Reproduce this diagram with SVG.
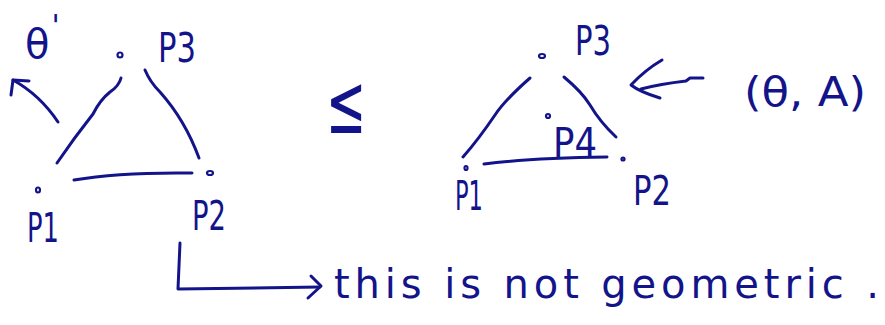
<svg xmlns="http://www.w3.org/2000/svg" width="885" height="325" viewBox="0 0 885 325">
<defs>
<style>
.s{fill:none;stroke:#14148a;stroke-width:3;stroke-linecap:round;stroke-linejoin:round}
.d{fill:none;stroke:#14148a;stroke-width:2.2}
.t{fill:#14148a;font-family:"DejaVu Sans","Liberation Sans",sans-serif;font-size:40px}
</style>
</defs>
<rect width="885" height="325" fill="#fff"/>
<g id="connectors">
<path class="s" d="M58 122 Q40 95 13 80"/>
<path class="s" d="M11 95 L13 80 L29 81"/>
<path class="s" d="M121 78 Q119 86 110 92 Q100 100 93 114 Q74 138 57 163"/>
<path class="s" d="M145 70 Q150 82 160 92 Q185 120 199 158"/>
<path class="s" d="M74 180 Q120 172 192 173"/>
<path class="s" d="M180 243 L178 289 L320 287"/>
<path class="s" d="M311 276 L321 286 L308 298"/>
<path class="s" d="M530 78 Q505 100 495 115 Q478 140 463 157"/>
<path class="s" d="M564 77 Q582 92 590 105 Q600 122 616 137"/>
<path class="s" d="M484 164 Q530 158 607 157"/>
<path class="s" d="M703 78 L690 78 L686 81 Q660 84 641 89"/>
<path class="s" d="M662 60 Q645 70 631 85 Q640 92 660 98"/>
</g>
<g id="p3-left"><ellipse class="d" cx="120" cy="55" rx="2.5" ry="2.5"/><text class="t" x="158" y="62" textLength="38" lengthAdjust="spacingAndGlyphs">P3</text></g>
<g id="p1-left"><ellipse class="d" cx="38" cy="190" rx="2" ry="2.5"/><text class="t" x="27" y="242" textLength="32" lengthAdjust="spacingAndGlyphs">P1</text></g>
<g id="p2-left"><ellipse class="d" cx="210" cy="173" rx="3" ry="2"/><text class="t" x="192" y="230" textLength="34" lengthAdjust="spacingAndGlyphs">P2</text></g>
<g id="theta-prime"><text class="t" x="25" y="58">θ<tspan dx="2" dy="-22" font-size="30">'</tspan></text></g>
<g id="leq"><text class="t" x="0" y="0" font-size="74" transform="translate(326,133) scale(1.2,2.1)">≤</text></g>
<g id="p3-right"><ellipse class="d" cx="542" cy="56" rx="3" ry="2"/><text class="t" x="575" y="55" textLength="36" lengthAdjust="spacingAndGlyphs">P3</text></g>
<g id="p4"><ellipse class="d" cx="548" cy="116" rx="2" ry="2"/><text class="t" x="553" y="157" font-size="36" textLength="44" lengthAdjust="spacingAndGlyphs">P4</text></g>
<g id="p1-right"><ellipse class="d" cx="466" cy="168" rx="1.5" ry="2"/><text class="t" x="455" y="210" font-size="32" textLength="28" lengthAdjust="spacingAndGlyphs">P1</text></g>
<g id="p2-right"><ellipse class="d" cx="623" cy="159" rx="1.5" ry="1.5"/><text class="t" x="633" y="205" textLength="38" lengthAdjust="spacingAndGlyphs">P2</text></g>
<g id="theta-a"><text class="t" x="744" y="106" font-size="42" textLength="122" lengthAdjust="spacingAndGlyphs">(θ, A)</text></g>
<g id="note"><text class="t" x="334" y="298" font-size="36" textLength="545" lengthAdjust="spacing">this is not geometric .</text></g>
</svg>
